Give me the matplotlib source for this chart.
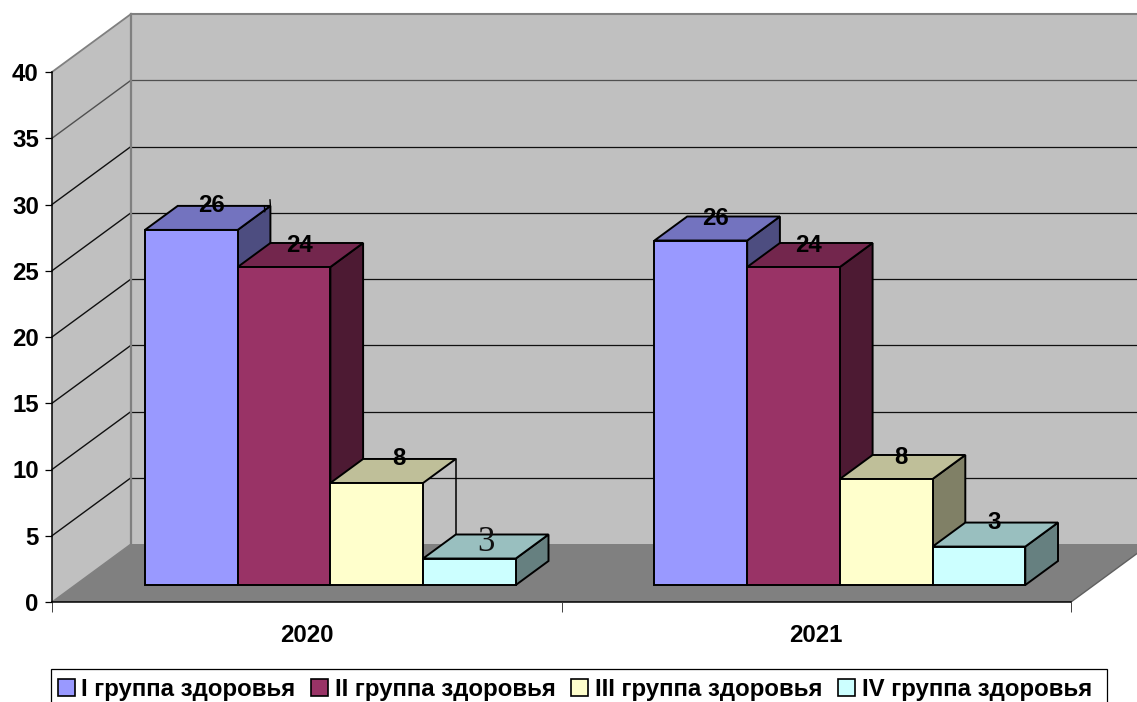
import matplotlib
matplotlib.use("Agg")
import matplotlib.pyplot as plt
from matplotlib.patches import Polygon, Patch, Rectangle

plt.rcParams['font.family'] = ['Liberation Sans', 'DejaVu Sans']

categories = ['2020', '2021']
series_names = ['I группа здоровья', 'II группа здоровья', 'III группа здоровья', 'IV группа здоровья']
values_2020 = [26.8, 24.0, 7.7, 2.0]
values_2021 = [26.0, 24.0, 8.0, 2.9]
labels_2020 = ['26', '24', '8', '3']
labels_2021 = ['26', '24', '8', '3']
y_ticks = [0, 5, 10, 15, 20, 25, 30, 35, 40]

front_colors = ['#9999FF', '#993366', '#FFFFCC', '#CCFFFF']
top_colors = ['#7373BF', '#73264D', '#BFBF99', '#99BFBF']
side_colors = ['#4D4D80', '#4D1A33', '#808066', '#668080']

W, H = 1137, 702
LEFT, RIGHT, BOTTOM, TOP = 52, 1071, 602, 72
PX_X = (RIGHT - LEFT) / 2.0
PX_Y = (BOTTOM - TOP) / 40.0
DX = 79 / PX_X       # depth shift of the back wall, x units
DY = 58 / PX_Y       # depth shift of the back wall, value units
D0, D1 = 0.293, 0.707
BAR_W = 92.7 / PX_X
FS = 17.3
EDGE = 1.4
SHIFT = 0.5 / PX_X


def P(x, v, d=0.0):
    return (x + d * DX, v + d * DY)


fig = plt.figure(figsize=(W / 100, H / 100), dpi=100, facecolor='white')
ax = fig.add_axes([LEFT / W, 1 - BOTTOM / H, (RIGHT - LEFT) / W, (BOTTOM - TOP) / H])
ax.set_xlim(0, 2)
ax.set_ylim(0, 40)
ax.patch.set_alpha(0)


def poly(points, fc, ec='none', lw=0.0, z=1):
    ax.add_patch(Polygon(points, closed=True, facecolor=fc, edgecolor=ec, linewidth=lw,
                         joinstyle='miter', clip_on=False, zorder=z))


# walls and floor
poly([P(0, 0, 1), P(2, 0, 1), P(2, 40, 1), P(0, 40, 1)], '#C0C0C0', z=0.5)
poly([P(0, 0, 0), P(0, 40, 0), P(0, 40, 1), P(0, 0, 1)], '#C0C0C0', z=0.6)
poly([P(0, 0, 0), P(2, 0, 0), P(2, 0, 1), P(0, 0, 1)], '#808080', z=0.7)

for t in y_ticks[1:]:
    col = '#808080' if t == 40 else ('#505050' if t == 35 else '#101010')
    lw = 1.5 if t == 40 else 0.9
    a, b, c = P(0, t, 0), P(0, t, 1), P(2, t, 1)
    ax.plot([a[0], b[0]], [a[1], b[1]], color=col, lw=1.0 if t < 40 else 1.3, clip_on=False, zorder=0.8)
    ax.plot([b[0], c[0]], [b[1], c[1]], color=col, lw=lw, clip_on=False, zorder=0.8)

a, b = P(0, 0, 1), P(0, 40, 1)
ax.plot([a[0], b[0]], [a[1], b[1]], color='#808080', lw=1.6, clip_on=False, zorder=0.85)
a, b = P(0, 0, 0), P(0, 0, 1)
ax.plot([a[0], b[0]], [a[1], b[1]], color='#808080', lw=1.0, clip_on=False, zorder=0.85)
a, b = P(2, 0, 0), P(2, 0, 1)
ax.plot([a[0], b[0]], [a[1], b[1]], color='#606060', lw=1.0, clip_on=False, zorder=0.85)


def draw_group(i, values, labels, nudges, styles, no_side=()):
    n = len(values)
    x0 = i + 0.5 - n * BAR_W / 2 + D0 * DX + SHIFT
    base = D0 * DY
    corners = []
    for k, v in enumerate(values):
        xl = x0 + k * BAR_W
        xr = xl + BAR_W
        z = 2 + k * 0.1
        ax.bar(xl, v, BAR_W, bottom=base, align='edge', color=front_colors[k], edgecolor='black',
               linewidth=EDGE, clip_on=False, zorder=z + 0.02)
        dd = D1 - D0
        poly([(xl, base + v), (xr, base + v), (xr + dd * DX, base + v + dd * DY), (xl + dd * DX, base + v + dd * DY)],
             top_colors[k], 'black', EDGE, z + 0.01)
        if k not in no_side:
            poly([(xr, base), (xr + dd * DX, base + dd * DY), (xr + dd * DX, base + v + dd * DY), (xr, base + v)],
                 side_colors[k], 'black', EDGE, z)
        corners.append(((xl + dd * DX, base + v + dd * DY), (xr + dd * DX, base + v + dd * DY)))
        tx = (xl + xr) / 2 + dd * DX / 2
        ty = base + v + dd * DY
        ax.annotate(labels[k], (tx, ty), xytext=nudges[k], textcoords='offset points', ha='center', va='center',
                    zorder=5, annotation_clip=False, **styles[k])
    return corners


bold = dict(fontsize=FS, fontweight='bold', color='black')
serif3 = dict(fontsize=25, family=['Liberation Serif'], color='#111111')
c20 = draw_group(0, values_2020, labels_2020, [(3, 0), (-0.5, -2), (4, 0), (0, -5.5)],
                 [bold, bold, bold, serif3], no_side=(2,))
c21 = draw_group(1, values_2021, labels_2021, [(-1.5, -1.5), (-1, -2), (-1, -2), (-1, 0)],
                 [bold, bold, bold, bold])

# stray leader lines that the source chart shows for moved labels
(p, q) = (c20[2][1], c20[3][0])
ax.plot([p[0], q[0]], [p[1], q[1]], color='black', lw=1.1, clip_on=False, zorder=3)
corner = c20[0][1]
ax.annotate('', xy=corner, xytext=(-0.3, 4.5), textcoords='offset points', zorder=3.5, annotation_clip=False,
            arrowprops=dict(arrowstyle='-', color='black', lw=1.0, shrinkA=0, shrinkB=0))
ax.annotate('', xy=(corner[0] - 0.011, corner[1] - 0.45), xytext=(-0.3, 4.5), textcoords='offset points',
            zorder=3.5, annotation_clip=False,
            arrowprops=dict(arrowstyle='-', color='black', lw=1.0, shrinkA=0, shrinkB=0))

# axes
for s in ('top', 'right'):
    ax.spines[s].set_visible(False)
for s in ('left', 'bottom'):
    ax.spines[s].set_linewidth(1.1)
    ax.spines[s].set_zorder(1.5)
ax.set_yticks(y_ticks)
ax.set_yticklabels([str(t) for t in y_ticks], fontsize=FS, fontweight='bold')
ax.tick_params(axis='y', length=5, width=0.9, pad=4.5)
ax.set_xticks([0, 1, 2])
ax.set_xticklabels([])
ax.tick_params(axis='x', which='major', length=7.2, width=0.7, color='#404040')
ax.set_xticks([0.5, 1.5], minor=True)
ax.set_xticklabels(categories, minor=True, fontsize=FS, fontweight='bold')
ax.tick_params(axis='x', which='minor', length=0, pad=15.5)

# legend: the frame runs past the bottom of the picture, as in the source
fig.add_artist(Rectangle((51 / W, 1 - 712 / H), (1107 - 51) / W, (712 - 669) / H, transform=fig.transFigure,
                         facecolor='white', edgecolor='black', linewidth=0.9, zorder=4))
handles = [Patch(facecolor=c, edgecolor='black', linewidth=1.2) for c in front_colors]
leg = fig.legend(handles, series_names, ncol=4, loc='upper left', bbox_to_anchor=(50.5 / W, 1 - 671 / H),
                 bbox_transform=fig.transFigure, borderaxespad=0, borderpad=0.3,
                 prop=dict(family='Liberation Sans', weight='bold', size=FS),
                 handlelength=0.7, handleheight=0.7, handletextpad=0.28, columnspacing=0.66,
                 frameon=False)
leg.set_zorder(5)

fig.savefig('out.png', dpi=100, facecolor='white')
